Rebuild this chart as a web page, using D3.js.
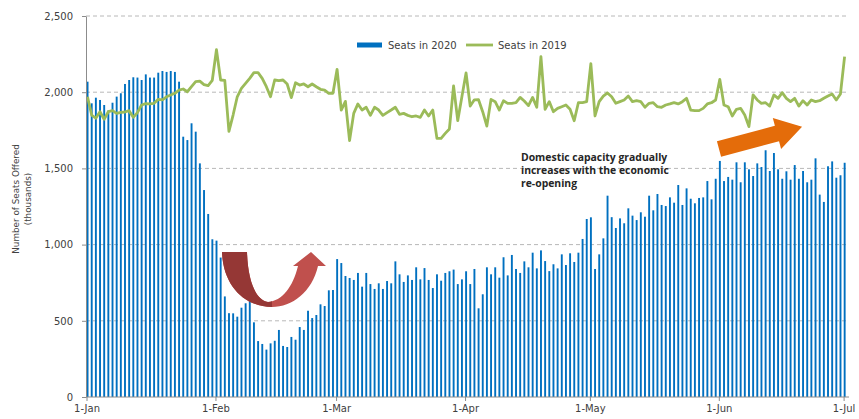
<!DOCTYPE html>
<html>
<head>
<meta charset="utf-8">
<script src="https://d3js.org/d3.v7.min.js"></script>
<style>
  body { margin: 0; background: #fff; }
  text { font-family: "DejaVu Sans", Verdana, sans-serif; fill: #404040; }
  .note { font-family: "Open Sans", sans-serif; font-weight: 700; font-size: 10.4px; fill: #262626; }
</style>
</head>
<body>
<script>
// daily seats offered (thousands), 1-Jan .. 1-Jul
var seats2020 = [
  2069, 1927, 1964, 1949, 1916, 1880, 1931, 1971, 1993, 2054, 2080, 2098, 2096, 2080, 2117, 2096,
  2096, 2128, 2139, 2133, 2139, 2133, 2069, 1708, 1686, 1796, 1741, 1533, 1358, 1201, 1035, 1026,
  915, 660, 550, 549, 527, 586, 615, 640, 490, 367, 348, 311, 352, 369, 440, 335,
  328, 394, 376, 459, 440, 566, 518, 538, 608, 597, 700, 702, 905, 879, 794, 781,
  768, 814, 724, 814, 741, 709, 746, 709, 761, 746, 890, 805, 755, 798, 768, 851,
  772, 846, 768, 715, 805, 763, 814, 825, 836, 741, 772, 825, 741, 840, 582, 674,
  851, 805, 851, 783, 917, 798, 932, 840, 814, 890, 851, 947, 844, 962, 892, 826,
  871, 844, 936, 866, 943, 886, 947, 1037, 1168, 1179, 840, 936, 1041, 1321, 1180, 1109,
  1172, 1140, 1238, 1190, 1161, 1212, 1183, 1321, 1225, 1332, 1260, 1253, 1310, 1275, 1391, 1260,
  1369, 1301, 1271, 1306, 1310, 1417, 1297, 1432, 1549, 1417, 1444, 1426, 1540, 1409, 1540, 1494,
  1450, 1533, 1509, 1619, 1483, 1601, 1494, 1432, 1481, 1426, 1522, 1432, 1483, 1409, 1426, 1566,
  1328, 1280, 1514, 1546, 1439, 1455, 1537
];
var seats2019 = [
  1970, 1850, 1829, 1872, 1822, 1872, 1879, 1861, 1868, 1870, 1879, 1835, 1866, 1916, 1925, 1923,
  1927, 1953, 1949, 1970, 1982, 1993, 2014, 2021, 2003, 2036, 2069, 2073, 2050, 2043, 2078, 2279,
  2080, 2078, 1743, 1850, 1970, 2025, 2058, 2091, 2128, 2128, 2091, 2036, 1970, 2080, 2076, 2080,
  2054, 1964, 2062, 2047, 2054, 2036, 2054, 2036, 2019, 2014, 1993, 1993, 2150, 1883, 1940, 1683,
  1861, 1923, 1883, 1901, 1848, 1901, 1883, 1848, 1866, 1883, 1901, 1855, 1861, 1848, 1839, 1844,
  1835, 1883, 1844, 1883, 1697, 1697, 1730, 1759, 2041, 1813, 1970, 2126, 1909, 1950, 1951, 1872,
  1778, 1953, 1938, 1883, 1944, 1927, 1927, 1931, 1966, 1942, 1912, 1966, 1901, 2233, 1888, 1938,
  1872, 1894, 1905, 1916, 1888, 1813, 1931, 1931, 1938, 2187, 1844, 1938, 1974, 1995, 1970, 1927,
  1938, 1949, 1975, 1938, 1944, 1938, 1901, 1927, 1931, 1905, 1901, 1916, 1923, 1931, 1923, 1938,
  1960, 1883, 1879, 1879, 1894, 1923, 1931, 1949, 2084, 1916, 1905, 1844, 1888, 1894, 1850, 1774,
  1982, 1949, 1927, 1931, 1909, 1982, 1960, 1997, 1960, 1938, 1960, 1909, 1944, 1916, 1949, 1938,
  1944, 1960, 1975, 1988, 1949, 1988, 2233
];
var yTicks = [0, 500, 1000, 1500, 2000, 2500];
var seriesNames = ['Seats in 2020', 'Seats in 2019'];
var noteLines = ['Domestic capacity gradually', 'increases with the economic', 're-opening'];

var w = 859, h = 419;
var start = new Date(Date.UTC(2020, 0, 1));
var dates = seats2020.map(function(d, i) { return d3.utcDay.offset(start, i); });

var svg = d3.select('body').append('svg')
  .attr('width', w)
  .attr('height', h);

var x = d3.scaleUtc()
  .domain([start, dates[dates.length - 1]])
  .range([86.5, 843.6]);
var y = d3.scaleLinear().domain([0, 2500]).range([397, 16]);
var off = 1; // marks sit a touch right of the date tick

//gridlines
svg.selectAll('.grid').data(yTicks.slice(1)).enter().append('line')
  .attr('x1', 86).attr('x2', 849)
  .attr('y1', function(d) { return y(d); })
  .attr('y2', function(d) { return y(d); })
  .attr('stroke', '#b8b8b8')
  .attr('stroke-dasharray', '4,3');

//bars
svg.selectAll('.bar').data(seats2020).enter().append('rect')
  .attr('x', function(d, i) { return x(dates[i]) + off - 0.9; })
  .attr('y', function(d) { return y(d); })
  .attr('width', 1.9)
  .attr('height', function(d) { return y(0) - y(d); })
  .attr('fill', '#0070c0');

//2019 line
var line = d3.line()
  .x(function(d, i) { return x(dates[i]) + off; })
  .y(function(d) { return y(d); });
svg.append('path').datum(seats2019)
  .attr('d', line)
  .attr('fill', 'none')
  .attr('stroke', '#9bbb59')
  .attr('stroke-width', 2.8)
  .attr('stroke-linejoin', 'round');

//axes
var yAxis = svg.append('g')
  .attr('transform', 'translate(86,0)')
  .call(d3.axisLeft(y).tickValues(yTicks).tickFormat(d3.format(',')).tickSize(4).tickSizeOuter(0).tickPadding(9));
yAxis.selectAll('line, path').attr('stroke', '#8c8c8c');
yAxis.selectAll('text').style('font-size', '10px').style('font-family', '"DejaVu Sans", sans-serif').attr('fill', '#404040');

var xAxis = svg.append('g')
  .attr('transform', 'translate(0,' + y(0) + ')')
  .call(d3.axisBottom(x).ticks(d3.utcMonth.every(1)).tickFormat(d3.utcFormat('%-d-%b')).tickSize(4).tickSizeOuter(0).tickPadding(4));
xAxis.select('.domain').remove();
xAxis.selectAll('line').attr('stroke', '#8c8c8c');
xAxis.selectAll('text').style('font-size', '10px').style('font-family', '"DejaVu Sans", sans-serif').attr('fill', '#404040');
svg.append('line')
  .attr('x1', 86).attr('x2', 849)
  .attr('y1', y(0)).attr('y2', y(0))
  .attr('stroke', '#8c8c8c');

//y title
svg.append('text')
  .attr('transform', 'translate(19,199) rotate(-90)')
  .attr('text-anchor', 'middle')
  .style('font-size', '8.8px')
  .text('Number of Seats Offered');
svg.append('text')
  .attr('transform', 'translate(31,199) rotate(-90)')
  .attr('text-anchor', 'middle')
  .style('font-size', '8.8px')
  .text('(thousands)');

//legend
var legend = svg.append('g');
legend.append('rect')
  .attr('x', 357).attr('y', 42.5).attr('width', 25).attr('height', 5)
  .attr('fill', '#0070c0');
legend.append('text').attr('x', 388).attr('y', 49).style('font-size', '10px').text(seriesNames[0]);
legend.append('line')
  .attr('x1', 466).attr('x2', 493).attr('y1', 45).attr('y2', 45)
  .attr('stroke', '#9bbb59').attr('stroke-width', 2.8);
legend.append('text').attr('x', 498).attr('y', 49).style('font-size', '10px').text(seriesNames[1]);

//annotation
svg.selectAll('.note').data(noteLines).enter().append('text')
  .attr('class', 'note')
  .attr('x', 521)
  .attr('y', function(d, i) { return 161 + i * 13; })
  .text(function(d) { return d; });

//u-turn arrow
var uPath = 'M222,252 C223,286 245,307 272,307 C292,307 312,292 318,266 L326,266 L311,252 L293,266 L298,266 C293,287 282,301 268,302 C256,300 248,282 247,252 Z';
svg.append('clipPath').attr('id', 'leftHalf')
  .append('rect').attr('x', 200).attr('y', 240).attr('width', 72).attr('height', 80);
svg.append('path').attr('d', uPath).attr('fill', '#c0504d');
svg.append('path').attr('d', uPath).attr('fill', '#953735').attr('clip-path', 'url(#leftHalf)');

//orange arrow
svg.append('path')
  .attr('d', 'M0,-8 L60,-8 L60,-16 L86,0 L60,16 L60,8 L0,8 Z')
  .attr('transform', 'translate(719,149) rotate(-15)')
  .attr('fill', '#e46c0a');
</script>
</body>
</html>
